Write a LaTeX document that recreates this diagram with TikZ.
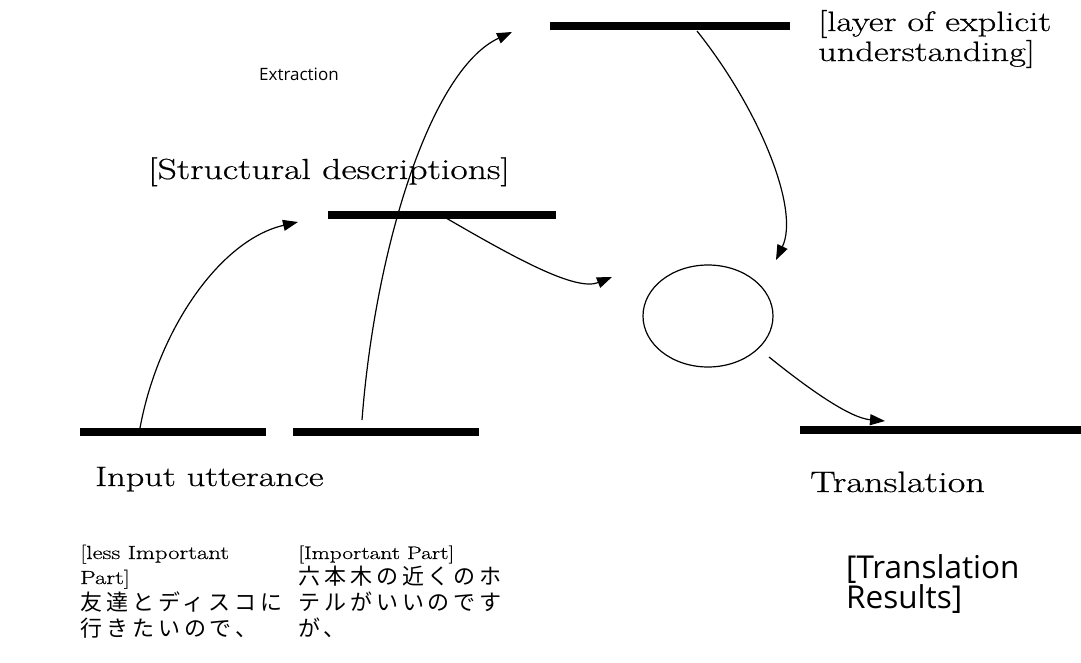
\documentclass[tikz,border=0pt]{standalone}
\usepackage{fontspec}
\usetikzlibrary{arrows.meta,shapes.geometric}
\newfontfamily\wideserif[FakeStretch=1.3,FakeBold=0.6]{Latin Modern Roman}
\newfontfamily\jpfont[LetterSpace=18]{Noto Sans CJK JP}
\newfontfamily\labelsans{Open Sans}
\begin{document}
\begin{tikzpicture}[x=1pt,y=-1pt,
  bar/.style={rectangle,fill=black,inner sep=0pt,minimum height=8pt},
  flow/.style={line width=1.2pt,-{Triangle[length=15pt,width=11pt]}},
  seriflabel/.style={anchor=base west,inner sep=0pt,font=\wideserif\fontsize{#1}{#1}\selectfont},
  jptext/.style={anchor=base west,inner sep=0pt,font=\jpfont\fontsize{22}{25}\selectfont},
  sanslabel/.style={anchor=base west,inner sep=0pt,font=\labelsans\fontsize{#1}{#1}\selectfont}]
\useasboundingbox (0,0) rectangle (1081,663);

% layer bars
\node[bar,minimum width=240pt] (top) at (670,26) {};
\node[bar,minimum width=228pt] (mid) at (442,215) {};
\node[bar,minimum width=186pt] (inA) at (173,432) {};
\node[bar,minimum width=186pt] (inB) at (386,432) {};
\node[bar,minimum width=281pt] (out) at (940.5,430) {};

% conceptual node
\node[draw,ellipse,line width=1.2pt,minimum width=130pt,minimum height=102pt,inner sep=0pt] (core) at (708,316) {};

% arrow ends
\coordinate (s1) at (140,428);
\coordinate (t1) at (298,222);
\coordinate (s2) at (362,420);
\coordinate (t2) at (512,32);
\coordinate (s3) at (446,218);
\coordinate (t3) at (612,277);
\coordinate (s4) at (697,31);
\coordinate (t4) at (776,260);
\coordinate (s5) at (769,357);
\coordinate (t5) at (885,421);

\draw[flow] (s1) .. controls (158,330) and (220,240) .. (t1);
\draw[flow] (s2) .. controls (375,250) and (430,70) .. (t2);
\draw[flow] (s3) .. controls (510,255) and (575,292) .. (t3);
\draw[flow] (s4) .. controls (760,110) and (800,210) .. (t4);
\draw[flow] (s5) .. controls (810,390) and (850,418) .. (t5);

% labels
\node[sanslabel=17] (extr) at (259,81) {Extraction};
\node[seriflabel=29] (struct) at (148,179) {[Structural descriptions]};
\node[seriflabel=28] (layA) at (818,31) {[layer of explicit};
\node[seriflabel=28] (layB) at (818,61) {understanding]};
\node[seriflabel=28] (input) at (95,486) {Input utterance};
\node[seriflabel=29.5] (trans) at (810,492) {Translation};

\node[seriflabel=19] (lessA) at (80,559) {[less Important};
\node[seriflabel=19] (lessB) at (80,584) {Part]};
\node[jptext] (lessC) at (80,610) {友達とディスコに};
\node[jptext] (lessD) at (80,636) {行きたいので、};

\node[seriflabel=18] (impA) at (298,559) {[Important Part]};
\node[jptext] (impB) at (298,584) {六本木の近くのホ};
\node[jptext] (impC) at (298,610) {テルがいいのです};
\node[jptext] (impD) at (298,636) {が、};

\node[sanslabel=31.5] (resA) at (846,578) {[Translation};
\node[sanslabel=31.5] (resB) at (846,608) {Results]};
\end{tikzpicture}
\end{document}
